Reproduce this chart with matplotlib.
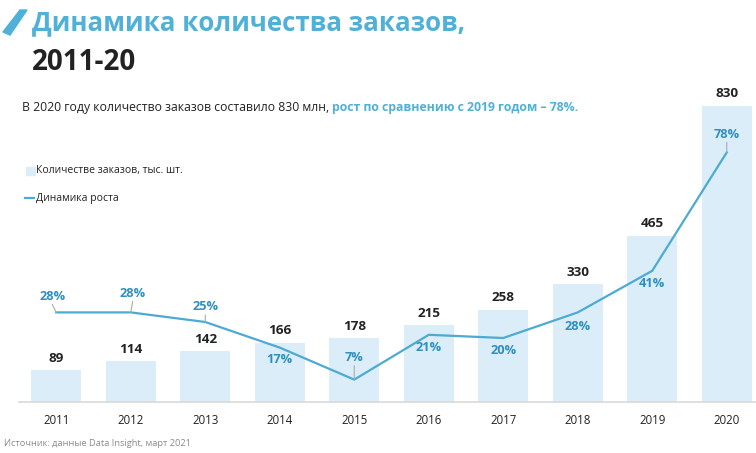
import matplotlib
matplotlib.use('Agg')
import matplotlib.pyplot as plt
from matplotlib.patches import Polygon, Rectangle
from matplotlib.lines import Line2D

plt.rcParams['font.family'] = ['Open Sans', 'DejaVu Sans']

years = ['2011', '2012', '2013', '2014', '2015', '2016', '2017', '2018', '2019', '2020']
orders = [89, 114, 142, 166, 178, 215, 258, 330, 465, 830]
growth = [28, 28, 25, 17, 7, 21, 20, 28, 41, 78]

# label offsets for growth labels (pixels), leader line or not
pct_off = [(-4, 16), (2, 19), (0, 15), (0, -12), (0, 22), (0, -13), (0, -12), (0, -14), (0, -13), (0, 18)]
leader = [True, True, True, False, True, False, False, False, False, True]

bar_col = '#dbedf8'
line_col = '#4caad3'
pct_col = '#2e8fc0'
dark = '#222222'
title_blue = '#4fb0d8'

W, H = 756, 453
fig = plt.figure(figsize=(W / 100, H / 100), dpi=100)

def fx(px):
    return px / W

def fy(py):
    return 1 - py / H

ax = fig.add_axes([fx(19), fy(402), fx(737), 302 / H])
x = list(range(len(years)))
ax.bar(x, orders, width=0.67, color=bar_col, zorder=1)
ax.set_xlim(-0.5, -0.5 + 737 / 74.5)
ax.set_ylim(0, 302 / 0.357)
for s in ['top', 'right', 'left']:
    ax.spines[s].set_visible(False)
ax.spines['bottom'].set_color('#d9d9d9')
ax.spines['bottom'].set_linewidth(1.2)
ax.set_yticks([])
ax.set_xticks(x)
ax.set_xticklabels(years, fontsize=8.3, color=dark)
ax.tick_params(axis='x', length=0, pad=9)

for i, v in enumerate(orders):
    ax.annotate(str(v), (i, v), xytext=(0, 12), textcoords='offset pixels',
                ha='center', va='center', fontsize=9.7, fontweight='bold', color=dark)

ax2 = ax.twinx()
ax2.set_ylim(0, 302 / 3.2)
ax2.set_yticks([])
for s in ax2.spines.values():
    s.set_visible(False)
ax2.plot(x, growth, color=line_col, lw=1.6, zorder=3)

for i, g in enumerate(growth):
    dx, dy = pct_off[i]
    ax2.annotate(f'{g}%', (i, g), xytext=(dx, dy), textcoords='offset pixels',
                 ha='center', va='center', fontsize=9.2, fontweight='bold', color=pct_col)
    if leader[i]:
        sgn = 1 if dy > 0 else -1
        ax2.annotate('', (i, g), xytext=(dx, dy - sgn * 8), textcoords='offset pixels',
                     arrowprops=dict(arrowstyle='-', color='#aaaaaa', lw=0.8,
                                     shrinkA=0, shrinkB=0))

# title block
fig.patches.append(Polygon([[fx(20), fy(10)], [fx(27), fy(10)], [fx(10), fy(35)], [fx(3), fy(32)]],
                           closed=True, transform=fig.transFigure, color=title_blue))
fig.text(fx(32), fy(23), 'Динамика количества заказов,', fontsize=18.6, fontweight='bold',
         color=title_blue, ha='left', va='center')
fig.text(fx(32), fy(62), '2011-20', fontsize=20, fontweight='bold', color=dark,
         ha='left', va='center')

t1 = fig.text(fx(22), fy(107), 'В 2020 году количество заказов составило 830 млн, ',
              fontsize=8.8, color=dark, ha='left', va='center')
fig.canvas.draw()
bb = t1.get_window_extent()
fig.text(bb.x1 / W, fy(107), 'рост по сравнению с 2019 годом – 78%.', fontsize=8.8,
         fontweight='bold', color=title_blue, ha='left', va='center')

# legend
fig.patches.append(Rectangle((fx(26), fy(175)), 9 / W, 8 / H, transform=fig.transFigure,
                             color=bar_col))
fig.text(fx(36), fy(171), 'Количестве заказов, тыс. шт.', fontsize=7.5, color=dark,
         ha='left', va='center')
fig.lines.append(Line2D([fx(25), fx(34)], [fy(198), fy(198)], transform=fig.transFigure,
                        color=line_col, lw=1.6))
fig.text(fx(36), fy(198), 'Динамика роста', fontsize=7.5, color=dark, ha='left', va='center')

fig.text(fx(4), fy(443), 'Источник: данные Data Insight, март 2021', fontsize=6.7,
         color='#8c8c8c', ha='left', va='center')

fig.savefig('out.png', dpi=100)
